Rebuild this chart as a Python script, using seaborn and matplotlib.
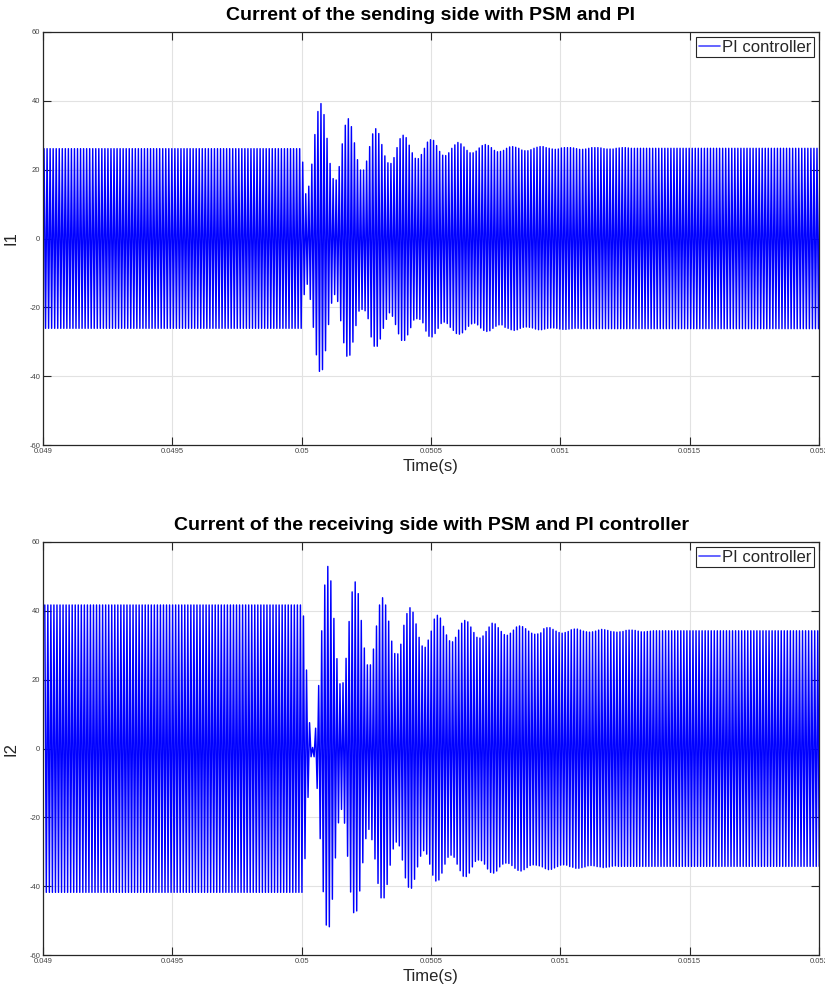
import numpy as np
import pandas as pd
import matplotlib
matplotlib.use("Agg")
import matplotlib.pyplot as plt
import seaborn as sns

# ---- data -------------------------------------------------------------
SWITCHING_FREQ = 85e3          # Hz
T_FIRST_PEAK = 0.049004        # s, first positive peak in the window
N_CYCLES = 256
N_BEFORE = 85                  # cycles before the disturbance at 0.05 s

# sending side current I1: steady peaks before / after, and per-cycle peaks
I1_BEFORE = (26.1, -26.1)
I1_AFTER = (26.2, -26.2)
I1_PEAKS_POS = [
    22.2, 13.0, 15.2, 21.6, 30.2, 36.9, 39.2, 36.0, 29.1, 21.8,
    17.4, 17.0, 20.9, 27.5, 32.9, 34.8, 32.5, 27.8, 22.9, 19.9,
    19.9, 22.5, 26.7, 30.4, 31.9, 30.5, 27.3, 24.0, 22.0, 21.8,
    23.5, 26.4, 29.0, 30.0, 29.3, 27.1, 24.9, 23.3, 23.2, 24.4,
    26.2, 28.0, 28.7, 28.5, 27.0, 25.3, 24.2, 24.1, 24.9, 26.2,
    27.2, 27.9, 27.5, 26.6, 25.6, 24.9, 24.9, 25.4, 26.3, 27.0,
    27.3, 27.0, 26.4, 25.6, 25.2, 25.3, 25.6, 26.2, 26.6, 26.7,
    26.5, 26.2, 25.7, 25.5, 25.5, 25.8, 26.2, 26.5,
    26.7, 26.7, 26.4, 26.2, 26.0, 25.9, 26.0, 26.3, 26.4, 26.4,
    26.4, 26.3, 26.1, 25.9, 25.9, 26.0, 26.2, 26.4, 26.4, 26.4,
    26.3, 26.1, 26.0, 26.0, 26.0, 26.2, 26.3, 26.4, 26.4, 26.3, 26.2,
]
I1_PEAKS_NEG = [
    -16.3, -13.3, -17.7, -25.8, -33.8, -38.6, -38.1, -32.6, -25.0, -18.8,
    -16.3, -18.3, -23.9, -30.3, -34.2, -33.9, -30.1, -25.3, -21.1, -20.6,
    -21.0, -23.3, -28.6, -31.3, -31.3, -29.2, -26.1, -23.5, -21.6, -22.6,
    -25.0, -27.7, -29.6, -29.6, -28.0, -25.9, -23.7, -23.3, -23.5, -24.5,
    -26.9, -28.4, -28.6, -27.6, -26.1, -24.7, -24.3, -24.7, -25.8, -26.7,
    -27.6, -27.8, -27.4, -26.5, -25.5, -24.8, -24.6, -25.1, -26.0, -26.7,
    -27.0, -26.8, -26.1, -25.5, -25.1, -25.1, -25.8, -26.1, -26.5, -26.7,
    -26.5, -26.1, -25.8, -25.7, -25.8, -26.0, -26.3, -26.5,
    -26.5, -26.3, -26.1, -26.0, -26.0, -26.1, -26.3, -26.4, -26.4, -26.3,
    -26.2, -26.1, -26.1, -26.2,
]

# receiving side current I2
I2_PHASE = 0.25                # cycles of lag relative to I1
I2_BEFORE = (41.7, -41.8)
I2_AFTER = (34.2, -34.25)
I2_PEAKS_POS = [
    38.5, 22.8, 7.5, 0.3, 5.9, 18.3, 34.2, 47.5, 52.9, 48.7,
    37.8, 26.1, 18.8, 19.1, 26.2, 36.9, 45.5, 48.4, 45.0, 37.2,
    29.2, 24.3, 24.3, 28.9, 35.6, 41.7, 43.8, 41.7, 37.0, 31.2,
    27.6, 27.5, 30.3, 35.8, 39.2, 40.9, 39.6, 36.2, 32.3, 29.8,
    29.4, 31.5, 34.1, 37.6, 38.7, 37.9, 35.5, 33.0, 31.3, 31.0,
    32.3, 34.4, 36.4, 37.2, 36.8, 35.3, 33.7, 32.3, 32.1, 32.7,
    34.0, 35.3, 36.4, 36.2, 35.1, 34.0, 33.1, 32.9, 33.5, 34.4,
    35.3, 35.6, 35.4, 34.8, 34.1, 33.5, 33.2, 33.3, 33.6,
    34.8, 35.1, 35.1, 34.6, 34.1, 33.7, 33.5, 33.7, 34.0, 34.5,
    34.7, 34.7, 34.4, 34.1, 33.9, 33.8, 33.9, 34.1, 34.4, 34.6,
    34.5, 34.3, 34.0, 33.9, 33.8, 33.9, 34.0, 34.3, 34.4, 34.4,
    34.3, 34.1, 33.9, 33.9, 34.0, 34.1, 34.2,
]
I2_PEAKS_NEG = [
    -32.0, -14.2, -2.4, -2.4, -11.6, -26.2, -41.6, -51.3, -51.8, -43.8,
    -31.8, -21.6, -17.7, -21.7, -31.3, -41.7, -47.7, -47.2, -41.4, -33.2,
    -26.2, -23.5, -26.5, -32.1, -39.2, -43.4, -43.4, -39.5, -33.9, -29.2,
    -27.2, -28.3, -32.4, -37.6, -40.3, -40.6, -38.0, -34.4, -31.3, -29.7,
    -30.7, -33.6, -36.8, -38.5, -38.2, -36.2, -33.6, -31.6, -31.0, -31.6,
    -33.6, -35.5, -37.1, -37.2, -36.2, -34.4, -32.8, -32.4, -32.6, -33.6,
    -35.0, -36.0, -36.2, -35.6, -34.4, -33.6, -33.3, -33.4, -34.0, -34.8,
    -35.4, -35.6, -35.2, -34.6, -34.0, -33.8, -33.9, -34.1,
    -34.4, -34.9, -35.2, -35.1, -34.7, -34.3, -33.9, -33.8, -33.9, -34.3,
    -34.5, -34.8, -34.8, -34.6, -34.4, -34.1, -34.0, -34.1, -34.3, -34.4,
    -34.6, -34.5, -34.4, -34.2, -34.1,
]

XTICKS = [0.049, 0.0495, 0.05, 0.0505, 0.051, 0.0515, 0.052]
YTICKS = [-60, -40, -20, 0, 20, 40, 60]
TITLES = ["Current of the sending side with PSM and PI",
          "Current of the receiving side with PSM and PI controller"]
YLABELS = ["I1", "I2"]
LEGEND_LABEL = "PI controller"


def waveform(before, after, pos, neg, phase=0.0):
    """Join alternating positive / negative half-cycle peaks into one trace."""
    p = [before[0]] * N_BEFORE + list(pos)
    p += [after[0]] * (N_CYCLES - len(p))
    n = [before[1]] * N_BEFORE + list(neg)
    n += [after[1]] * (N_CYCLES - len(n))
    k = np.arange(N_CYCLES)
    t = np.empty(2 * N_CYCLES)
    y = np.empty(2 * N_CYCLES)
    t[0::2] = T_FIRST_PEAK + (k + phase) / SWITCHING_FREQ
    t[1::2] = T_FIRST_PEAK + (k + phase + 0.5) / SWITCHING_FREQ
    y[0::2] = p[:N_CYCLES]
    y[1::2] = n[:N_CYCLES]
    return pd.DataFrame({"Time(s)": t, "I": y})


frames = [
    waveform(I1_BEFORE, I1_AFTER, I1_PEAKS_POS, I1_PEAKS_NEG),
    waveform(I2_BEFORE, I2_AFTER, I2_PEAKS_POS, I2_PEAKS_NEG, phase=I2_PHASE),
]

# ---- figure -----------------------------------------------------------
sns.set_theme(style="ticks")
plt.rcParams["font.family"] = ["Liberation Sans", "DejaVu Sans"]

W, H = 825, 991
fig = plt.figure(figsize=(W / 100, H / 100), dpi=100)
axes_px = [(43, 32, 819, 445), (43, 542, 819, 955)]

for (x0, y0, x1, y1), df, title, ylab in zip(axes_px, frames, TITLES, YLABELS):
    ax = fig.add_axes([x0 / W, 1 - y1 / H, (x1 - x0) / W, (y1 - y0) / H])
    sns.lineplot(data=df, x="Time(s)", y="I", ax=ax, color="#0000ff",
                 linewidth=1.05, estimator=None, sort=False,
                 label=LEGEND_LABEL)
    ax.set_xlim(XTICKS[0], XTICKS[-1])
    ax.set_ylim(YTICKS[0], YTICKS[-1])
    ax.set_xticks(XTICKS)
    ax.set_xticklabels([f"{v:g}" for v in XTICKS])
    ax.set_yticks(YTICKS)
    ax.set_yticklabels([str(v) for v in YTICKS])
    ax.grid(True, color="#e2e2e2", linewidth=0.8)
    ax.set_axisbelow(True)
    for s in ax.spines.values():
        s.set_visible(True)
        s.set_color("#262626")
        s.set_linewidth(0.9)
    ax.tick_params(direction="in", length=5.5, width=0.8, top=True,
                   right=True, labelsize=5.5, labelcolor="#444444",
                   color="#262626", pad=2)
    ax.set_title(title, fontsize=14, fontweight="bold", pad=9,
                 color="black")
    ax.set_xlabel("Time(s)", fontsize=12, labelpad=3, color="#262626")
    ax.set_ylabel(ylab, fontsize=12, labelpad=8, color="#262626")
    leg = ax.legend(loc="upper right", fontsize=12, frameon=True,
                    fancybox=False, framealpha=1, edgecolor="#262626",
                    borderaxespad=0.3, borderpad=0.15, handlelength=1.3,
                    handletextpad=0.1)
    leg.get_frame().set_linewidth(0.8)
    for h in leg.get_lines():
        h.set_color("#4a4aff")
        h.set_linewidth(1.2)

fig.savefig("out.png", dpi=100)
